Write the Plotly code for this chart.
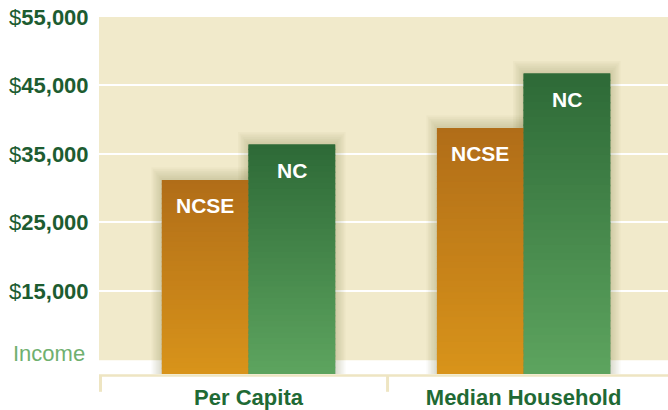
import plotly.graph_objects as go

# ---------------- data ----------------
categories = ["Per Capita", "Median Household"]
series_names = ["NCSE", "NC"]
ncse_values = [31200, 38800]
nc_values = [36400, 46750]
y_tick_values = [15000, 25000, 35000, 45000, 55000]
y_tick_labels = ["15,000", "25,000", "35,000", "45,000", "55,000"]
y_axis_note = "Income"

# ---------------- styling ----------------
W, H = 668, 410
M_L, M_R, M_T, M_B = 99, 0, 17, 32
FONT = "Liberation Sans, Arial, sans-serif"
DARK_GREEN = "#1d5c31"
LABEL_GREEN = "#1f6a35"
LIGHT_GREEN = "#6fb06f"
BG = "#f1eacb"
BRACKET = "#eee5c2"
Y_RANGE = [2870, 55000]
BG_BOTTOM = 4890
X_RANGE = [-0.5436, 1.525]
BARGAP = 0.37
GRAD = {
    "NCSE": ("#b06d18", "#d8931a"),
    "NC": ("#2d6937", "#5da45e"),
}

plot_w = W - M_L - M_R
plot_h = H - M_T - M_B
px_x = (X_RANGE[1] - X_RANGE[0]) / plot_w   # data units per px (x)
px_y = (Y_RANGE[1] - Y_RANGE[0]) / plot_h   # data units per px (y)


def hex_to_rgb(h):
    h = h.lstrip("#")
    return tuple(int(h[i:i + 2], 16) for i in (0, 2, 4))


def mix(c1, c2, t):
    a, b = hex_to_rgb(c1), hex_to_rgb(c2)
    return "rgb(%d,%d,%d)" % tuple(round(a[i] + (b[i] - a[i]) * t) for i in range(3))


fig = go.Figure()
x_idx = list(range(len(categories)))
all_series = [ncse_values, nc_values]

for name, vals in zip(series_names, all_series):
    fig.add_trace(go.Bar(
        x=x_idx, y=vals, name=name,
        marker=dict(color=GRAD[name][0], line=dict(width=0)),
        hoverinfo="skip", showlegend=False,
    ))

shapes = []
annotations = []

# background panel
shapes.append(dict(type="rect", xref="paper", yref="y", x0=0, x1=1,
                   y0=BG_BOTTOM, y1=Y_RANGE[1], fillcolor=BG,
                   line=dict(width=0), layer="below"))

bar_w = (1 - BARGAP) / len(series_names)
N_STRIPS = 40
for si, (name, vals) in enumerate(zip(series_names, all_series)):
    top_c, bot_c = GRAD[name]
    for ci, v in enumerate(vals):
        xc = ci + (si - (len(series_names) - 1) / 2) * bar_w
        x0, x1 = xc - bar_w / 2, xc + bar_w / 2
        # soft shadow
        for k in range(1, 8):
            shapes.append(dict(type="rect", xref="x", yref="y",
                               x0=x0 - k * 1.5 * px_x, x1=x1 + k * 1.5 * px_x,
                               y0=Y_RANGE[0], y1=v + k * 1.8 * px_y,
                               fillcolor="rgba(105,85,40,0.03)",
                               line=dict(width=0), layer="between"))
        # vertical gradient (strips drawn top to bottom, each overlapping the one above)
        span = v - Y_RANGE[0]
        for k in range(N_STRIPS):
            ya = v - span * k / N_STRIPS
            yb = v - span * (k + 1) / N_STRIPS
            y_top = v if k == 0 else ya + 1.5 * px_y
            shapes.append(dict(type="rect", xref="x", yref="y",
                               x0=x0, x1=x1, y0=yb, y1=y_top,
                               fillcolor=mix(top_c, bot_c, (k + 0.5) / N_STRIPS),
                               line=dict(width=0), layer="above"))
        annotations.append(dict(x=xc, y=v, xref="x", yref="y", text="<b>%s</b>" % name,
                                showarrow=False, yanchor="middle", yshift=-26,
                                font=dict(family=FONT, size=21, color="white")))

# bracket under the axis
y_line = -1.5 / plot_h
y_tick_end = -18 / plot_h
shapes.append(dict(type="line", xref="paper", yref="paper", x0=0, x1=1,
                   y0=y_line, y1=y_line, line=dict(color=BRACKET, width=2.5)))
for xd in [X_RANGE[0], 0.5]:
    xp = (xd - X_RANGE[0]) / (X_RANGE[1] - X_RANGE[0]) + 1.5 / plot_w
    shapes.append(dict(type="line", xref="paper", yref="paper", x0=xp, x1=xp,
                       y0=y_line, y1=y_tick_end, line=dict(color=BRACKET, width=3)))

annotations.append(dict(x=0, xref="paper", y=5900, yref="y", text=y_axis_note,
                        showarrow=False, xanchor="right", yanchor="middle", xshift=-12,
                        font=dict(family=FONT, size=22, color=LIGHT_GREEN)))

fig.update_layout(
    width=W, height=H,
    margin=dict(l=M_L, r=M_R, t=M_T, b=M_B, pad=0),
    paper_bgcolor="white", plot_bgcolor="white",
    barmode="group", bargap=BARGAP, bargroupgap=0,
    font=dict(family=FONT),
    shapes=shapes, annotations=annotations,
    showlegend=False,
)
fig.update_xaxes(
    type="linear", range=X_RANGE, tickvals=x_idx,
    ticktext=["<b>%s</b>" % c for c in categories],
    tickfont=dict(family=FONT, size=22, color=LABEL_GREEN),
    showgrid=False, zeroline=False, showline=False,
    ticks="outside", ticklen=4, tickcolor="rgba(0,0,0,0)",
)
fig.update_yaxes(
    range=Y_RANGE, tickvals=y_tick_values,
    ticktext=["$<b>%s</b>" % t for t in y_tick_labels],
    tickfont=dict(family=FONT, size=22, color=DARK_GREEN),
    showgrid=True, gridcolor="white", gridwidth=2,
    zeroline=False, showline=False,
    ticks="outside", ticklen=5, tickcolor="rgba(0,0,0,0)",
)

fig.write_html(
    "out.html",
    config={"displayModeBar": False},
    post_script="document.body.style.margin='0';document.body.style.overflow='hidden';",
)
